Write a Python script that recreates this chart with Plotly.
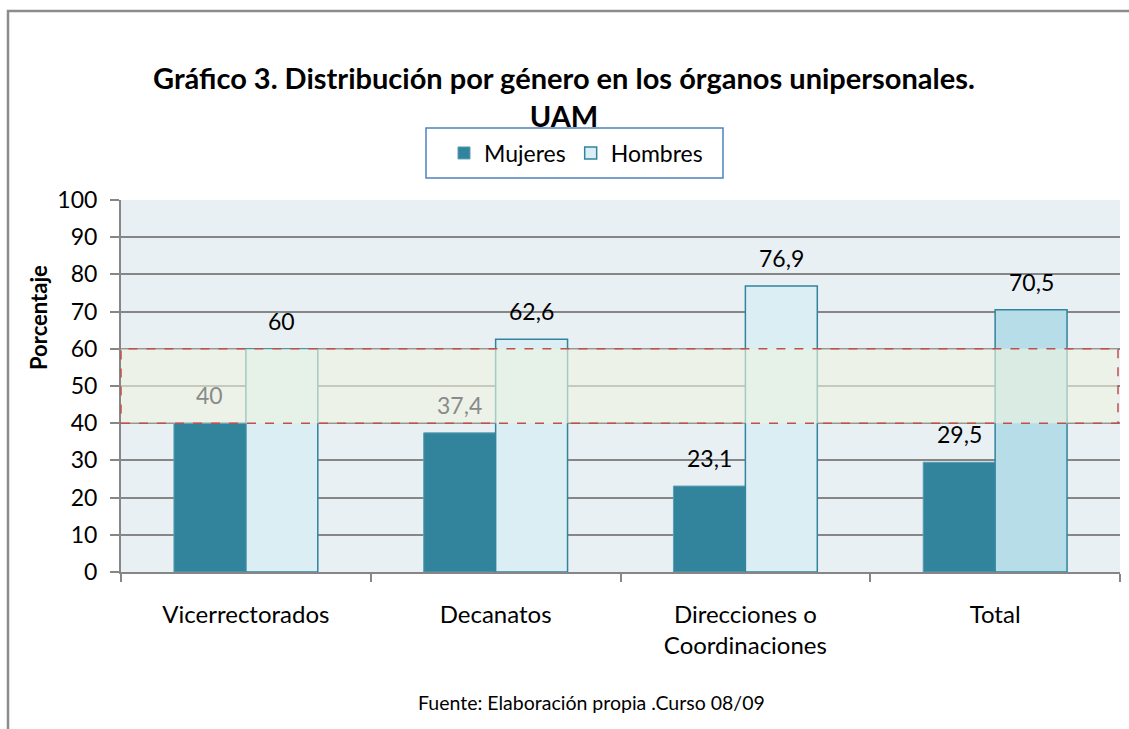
import plotly.graph_objects as go

categories = ["Vicerrectorados", "Decanatos", "Direcciones o<br>Coordinaciones", "Total"]
mujeres = [40, 37.4, 23.1, 29.5]
hombres = [60, 62.6, 76.9, 70.5]
band_low, band_high = 40, 60
y_ticks = list(range(0, 101, 10))

FONT = "Lato"
c_muj = "#31849b"
c_hom = ["#dbeef4", "#dbeef4", "#dbeef4", "#b7dee8"]

L, R, T, B = 121, 9, 200, 157
W, H = 1129, 729
pw, ph = W - L - R, H - T - B

def px2x(px):
    return (px - L) / pw

def py2y(py):
    return (H - B - py) / ph

fig = go.Figure()
fig.add_trace(go.Bar(name="Mujeres", x=categories, y=mujeres,
                     marker=dict(color=c_muj, line=dict(color="#5a9fb2", width=1))))
fig.add_trace(go.Bar(name="Hombres", x=categories, y=hombres,
                     marker=dict(color=c_hom, line=dict(color="#31849b", width=1.5))))

# data labels (labels that fall inside the shaded band look greyed out)
label_shift_units = 28 / ph * 100
for i, c in enumerate(categories):
    for val, shift in ((mujeres[i], -36), (hombres[i], 36)):
        inside = band_low <= val + label_shift_units <= band_high
        fig.add_annotation(x=c, y=val, text=f"{val:g}".replace(".", ","), showarrow=False,
                           xshift=shift, yshift=28, yanchor="middle",
                           font=dict(family=FONT, size=23, color="#8a8a8a" if inside else "black"))

# band 40-60
fig.add_shape(type="rect", xref="paper", yref="y", x0=0, x1=0.998, y0=band_low, y1=band_high,
              fillcolor="rgba(238,243,222,0.62)", line=dict(color="#c0504d", width=1.5, dash="dash"),
              layer="above")

# outer frame
fig.add_shape(type="path", xref="paper", yref="paper",
              path=f"M {px2x(8)} {py2y(740)} L {px2x(8)} {py2y(11)} L {px2x(1140)} {py2y(11)}",
              line=dict(color="#8c8c8c", width=2.5))

# legend box
fig.add_shape(type="rect", xref="paper", yref="paper", x0=px2x(426), x1=px2x(723),
              y0=py2y(178), y1=py2y(128), line=dict(color="#4f81bd", width=1.5), fillcolor="white",
              layer="below")

fig.add_annotation(xref="paper", yref="paper", x=px2x(591), y=py2y(702), showarrow=False,
                   yanchor="middle", xanchor="center",
                   text="Fuente: Elaboración propia .Curso 08/09",
                   font=dict(family=FONT, size=19.5, color="black"))

# y axis title
fig.add_annotation(xref="paper", yref="paper", x=px2x(38), y=py2y(318), showarrow=False,
                   xanchor="center", yanchor="middle", textangle=-90,
                   text="<b>Porcentaje</b>", font=dict(family=FONT, size=22, color="black"))

fig.update_layout(
    width=W, height=H,
    margin=dict(l=L, r=R, t=T, b=B),
    paper_bgcolor="white", plot_bgcolor="#e9f0f4",
    barmode="group", bargap=0.424, bargroupgap=0,
    separators=",.",
    title=dict(text="<b>Gráfico 3. Distribución por género en los órganos unipersonales.<br>UAM</b>",
               x=564 / W, xanchor="center", y=1 - 89 / H, yanchor="middle",
               font=dict(family=FONT, size=29, color="black")),
    legend=dict(orientation="h", x=px2x(576), xanchor="center", y=py2y(153), yanchor="middle",
                font=dict(family=FONT, size=23, color="black"), bgcolor="rgba(0,0,0,0)",
                borderwidth=0, traceorder="normal"),
    font=dict(family=FONT, color="black"),
)
fig.update_xaxes(showgrid=False, showline=True, linecolor="#868686", linewidth=2,
                 ticks="outside", tickson="boundaries", ticklen=8, tickcolor="#868686", tickwidth=2,
                 tickfont=dict(family=FONT, size=24, color="black"), ticklabelstandoff=20)
fig.update_yaxes(range=[0, 100], tickvals=y_ticks, showgrid=True, gridcolor="#868686", gridwidth=2,
                 showline=True, linecolor="#868686", linewidth=2, ticks="outside", ticklen=9,
                 tickcolor="#868686", tickwidth=2, zeroline=False,
                 tickfont=dict(family=FONT, size=23, color="black"), ticklabelstandoff=8)

fig.write_html("out.html", config={"displayModeBar": False},
               post_script="document.body.style.margin='0';document.body.style.padding='0';")
